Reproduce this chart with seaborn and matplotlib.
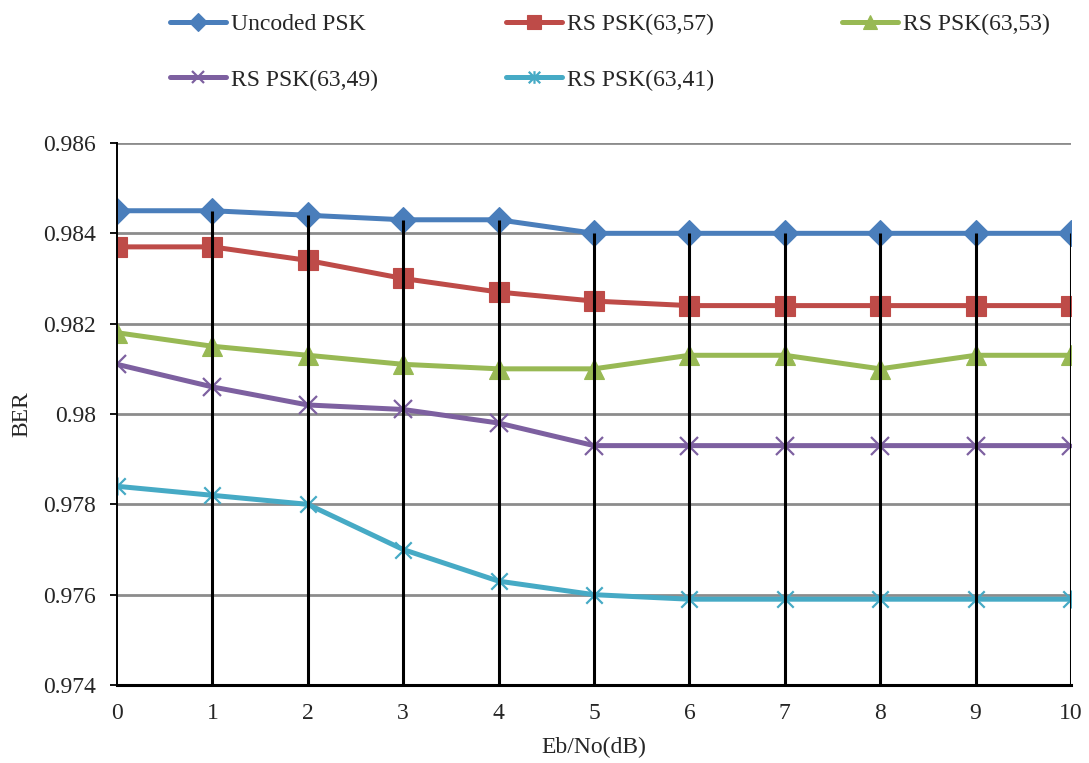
import matplotlib
matplotlib.use("Agg")
import matplotlib.pyplot as plt
from matplotlib.path import Path
import seaborn as sns
import numpy as np
import pandas as pd

# Eb/No sweep in dB
ebno = [0, 1, 2, 3, 4, 5, 6, 7, 8, 9, 10]

uncoded = [0.9845, 0.9845, 0.9844, 0.9843, 0.9843, 0.9840, 0.9840, 0.9840, 0.9840, 0.9840, 0.9840]
rs_63_57 = [0.9837, 0.9837, 0.9834, 0.9830, 0.9827, 0.9825, 0.9824, 0.9824, 0.9824, 0.9824, 0.9824]
rs_63_53 = [0.9818, 0.9815, 0.9813, 0.9811, 0.9810, 0.9810, 0.9813, 0.9813, 0.9810, 0.9813, 0.9813]
rs_63_49 = [0.9811, 0.9806, 0.9802, 0.9801, 0.9798, 0.9793, 0.9793, 0.9793, 0.9793, 0.9793, 0.9793]
rs_63_41 = [0.9784, 0.9782, 0.9780, 0.9770, 0.9763, 0.9760, 0.9759, 0.9759, 0.9759, 0.9759, 0.9759]

series_names = ["Uncoded PSK", "RS PSK(63,57)", "RS PSK(63,53)", "RS PSK(63,49)", "RS PSK(63,41)"]
series_values = [uncoded, rs_63_57, rs_63_53, rs_63_49, rs_63_41]

y_ticks = [0.974, 0.976, 0.978, 0.980, 0.982, 0.984, 0.986]
y_tick_labels = ["0.974", "0.976", "0.978", "0.98", "0.982", "0.984", "0.986"]

# asterisk marker: an X crossed by a vertical bar
star_path = Path(
    [(-1, -1), (1, 1), (-1, 1), (1, -1), (0, -1.1), (0, 1.1)],
    [Path.MOVETO, Path.LINETO, Path.MOVETO, Path.LINETO, Path.MOVETO, Path.LINETO],
)

colors = ["#4A7EBB", "#BE4B48", "#98B954", "#7D60A0", "#46AAC5"]
markers = ["D", "s", "^", "x", star_path]
msizes = [13, 14, 14, 13, 13]

sns.set_theme(style="white")
plt.rcParams["font.family"] = ["Liberation Serif", "DejaVu Serif"]

df = pd.DataFrame({
    "ebno": np.tile(ebno, len(series_names)),
    "ber": np.concatenate(series_values),
    "series": np.repeat(series_names, len(ebno)),
})

fig = plt.figure(figsize=(10.89, 7.63), dpi=100)
ax = fig.add_axes([0.1074, 0.1022, 0.8761, 0.7104])

for i, (name, col, mk, ms) in enumerate(zip(series_names, colors, markers, msizes)):
    sub = df[df["series"] == name]
    sns.lineplot(data=sub, x="ebno", y="ber", ax=ax, color=col, linewidth=3.6,
                 marker=mk, markersize=ms, markeredgecolor=col,
                 markeredgewidth=1.6 if i >= 3 else 0.8,
                 label=name, zorder=3, legend=False)

# drop lines from the highest curve down to the axis
tops = df.groupby("ebno")["ber"].max()
ax.vlines(tops.index[1:], y_ticks[0], tops.values[1:], color="black", linewidth=2.2, zorder=4)

ax.set_xlim(0, 10)
ax.set_ylim(0.974, 0.986)
ax.set_yticks(y_ticks)
ax.set_yticklabels(y_tick_labels)
ax.set_xticks(ebno)
ax.set_xticklabels([str(v) for v in ebno])

ax.yaxis.grid(True, color="#8C8C8C", linewidth=2.0)
ax.xaxis.grid(False)
ax.set_axisbelow(True)

for side in ("top", "right"):
    ax.spines[side].set_visible(False)
ax.spines["left"].set_color("black")
ax.spines["left"].set_linewidth(1.4)
ax.spines["left"].set_zorder(5)
ax.spines["bottom"].set_color("black")
ax.spines["bottom"].set_linewidth(2.2)
ax.spines["bottom"].set_zorder(5)

ax.tick_params(axis="y", left=True, length=5, width=1.3, color="black", pad=10, labelsize=17)
ax.tick_params(axis="x", bottom=False, length=0, pad=13, labelsize=17)

ax.set_xlabel("Eb/No(dB)", fontsize=17, labelpad=9)
ax.set_ylabel("BER", fontsize=17, labelpad=8)

# legend arranged row-wise across three columns
handles, labels = ax.get_legend_handles_labels()
order = [0, 3, 1, 4, 2]
fig.legend([handles[i] for i in order], [labels[i] for i in order],
           loc="upper left", bbox_to_anchor=(0.145, 0.998), ncol=3, frameon=False,
           fontsize=17, handlelength=2.4, handletextpad=0.2, columnspacing=5.4,
           labelspacing=1.45, borderpad=0, markerscale=0.7)

fig.savefig("out.png", dpi=100)
